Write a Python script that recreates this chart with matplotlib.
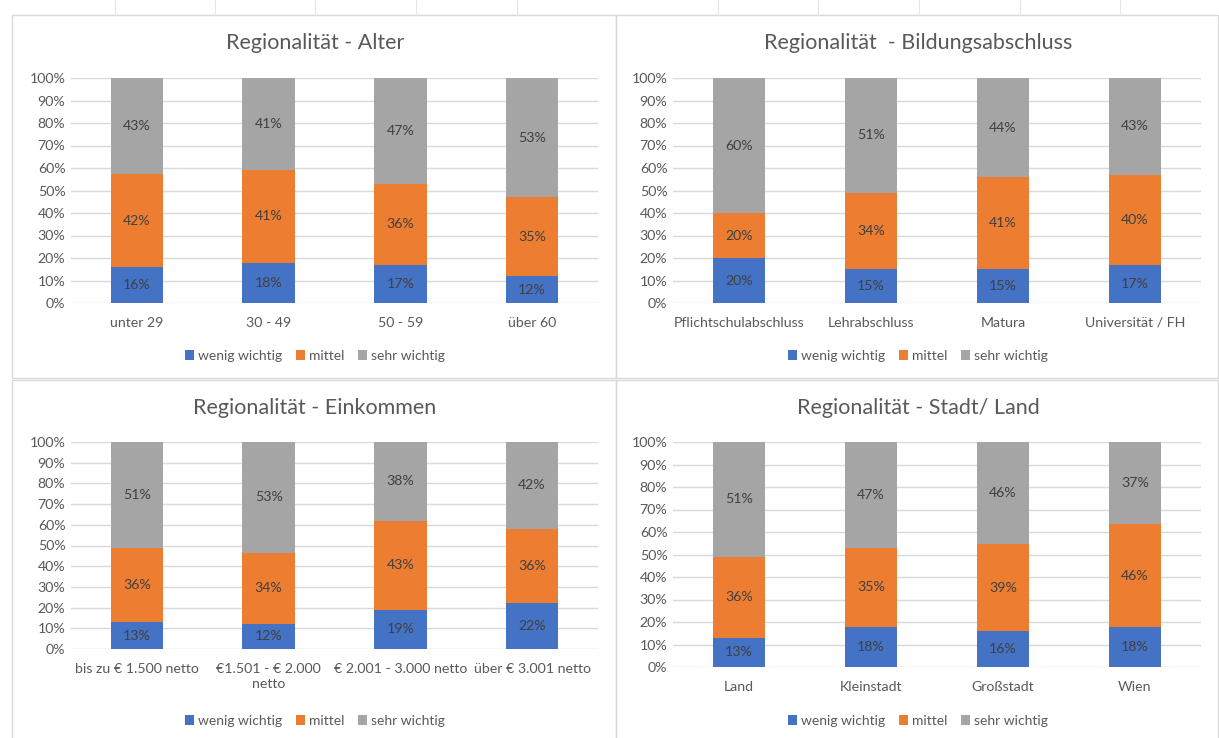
import matplotlib
matplotlib.use("Agg")
import matplotlib.pyplot as plt
from matplotlib.lines import Line2D
from matplotlib.patches import Rectangle
import numpy as np

plt.rcParams['font.family'] = ['Lato', 'DejaVu Sans']

serien = ["wenig wichtig", "mittel", "sehr wichtig"]
farben = ["#4472C4", "#ED7D31", "#A5A5A5"]

alter_kat = ["unter 29", "30 - 49", "50 - 59", "über 60"]
alter_wenig = [16, 18, 17, 12]
alter_mittel = [42, 41, 36, 35]
alter_sehr = [43, 41, 47, 53]

bildung_kat = ["Pflichtschulabschluss", "Lehrabschluss", "Matura", "Universität / FH"]
bildung_wenig = [20, 15, 15, 17]
bildung_mittel = [20, 34, 41, 40]
bildung_sehr = [60, 51, 44, 43]

einkommen_kat = ["bis zu € 1.500 netto", "€1.501 - € 2.000\nnetto",
                 "€ 2.001 - 3.000 netto", "über € 3.001 netto"]
einkommen_wenig = [13, 12, 19, 22]
einkommen_mittel = [36, 34, 43, 36]
einkommen_sehr = [51, 53, 38, 42]

stadt_kat = ["Land", "Kleinstadt", "Großstadt", "Wien"]
stadt_wenig = [13, 18, 16, 18]
stadt_mittel = [36, 35, 39, 46]
stadt_sehr = [51, 47, 46, 37]

W, H = 1219, 738
TEXT = "#595959"
GRID = "#D9D9D9"

fig = plt.figure(figsize=(W / 100, H / 100), dpi=100)
fig.patch.set_facecolor("white")


def px_axes(left, top, right, bottom):
    return fig.add_axes([left / W, 1 - bottom / H, (right - left) / W, (bottom - top) / H])


def fx(x):
    return x / W


def fy(y):
    return 1 - y / H


# faint spreadsheet cell lines behind the charts
for x in [115, 215, 315, 416, 517, 718, 818, 919, 1020, 1120]:
    fig.add_artist(Line2D([fx(x), fx(x)], [fy(0), fy(15)], color="#E6E6E6", lw=0.8))

# chart frames
for (l, t, r, b) in [(12, 15, 616, 378), (616, 15, 1218, 378),
                     (12, 380, 616, 750), (616, 380, 1218, 750)]:
    fig.add_artist(Rectangle((fx(l), fy(b)), fx(r - l), (b - t) / H, fill=False,
                             edgecolor="#D9D9D9", lw=1.0, transform=fig.transFigure))


def panel(box, cx, titel, title_y, legend_y, kat, wenig, mittel, sehr):
    ax = px_axes(*box)
    werte = np.array([wenig, mittel, sehr], dtype=float)
    anteile = werte / werte.sum(axis=0)
    x = np.arange(len(kat))
    unten = np.zeros(len(kat))
    for i in range(3):
        ax.bar(x, anteile[i], 0.4, bottom=unten, color=farben[i], label=serien[i], zorder=3)
        for j in range(len(kat)):
            ax.text(x[j], unten[j] + anteile[i][j] / 2, f"{int(werte[i][j])}%",
                    ha="center", va="center", fontsize=10.2, color="#404040", zorder=4)
        unten += anteile[i]
    ax.set_xlim(-0.5, len(kat) - 0.5)
    ax.set_ylim(0, 1)
    ax.set_yticks(np.arange(0, 1.01, 0.1))
    ax.set_yticklabels([f"{v}%" for v in range(0, 101, 10)])
    ax.set_xticks(x)
    ax.set_xticklabels(kat, linespacing=1.35)
    ax.tick_params(length=0, labelsize=10.2, colors=TEXT)
    ax.tick_params(axis="x", pad=10)
    ax.tick_params(axis="y", pad=4)
    ax.grid(axis="y", color=GRID, lw=1.0, zorder=0)
    for s in ax.spines.values():
        s.set_visible(False)
    # title and legend are centred on the chart frame, not the plot area
    fig.text(fx(cx), fy(title_y), titel, ha="center", va="center", fontsize=15.5, color=TEXT)
    ax.legend(loc="center", bbox_to_anchor=(fx(cx), fy(legend_y)), bbox_transform=fig.transFigure,
              ncol=3, frameon=False, fontsize=10, labelcolor=TEXT, handlelength=0.65,
              handleheight=0.65, handletextpad=0.3, columnspacing=1.0)
    return ax


panel((71, 78, 598, 303), 315, "Regionalität - Alter", 43, 356,
      alter_kat, alter_wenig, alter_mittel, alter_sehr)
panel((673, 78, 1201, 303), 918, "Regionalität  - Bildungsabschluss", 43, 356,
      bildung_kat, bildung_wenig, bildung_mittel, bildung_sehr)
panel((71, 442, 598, 649), 315, "Regionalität - Einkommen", 408, 721,
      einkommen_kat, einkommen_wenig, einkommen_mittel, einkommen_sehr)
panel((673, 442, 1201, 667), 918, "Regionalität - Stadt/ Land", 408, 721,
      stadt_kat, stadt_wenig, stadt_mittel, stadt_sehr)

fig.savefig("out.png", dpi=100)
